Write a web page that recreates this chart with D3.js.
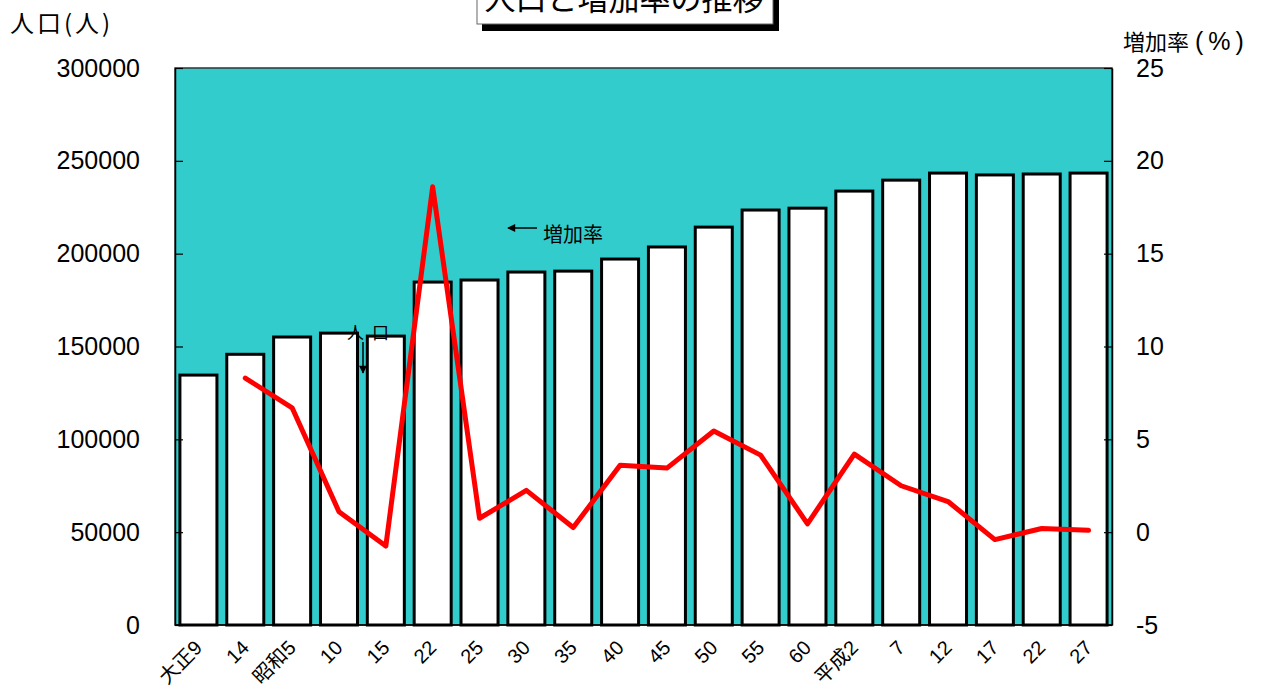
<!DOCTYPE html>
<html>
<head>
<meta charset="utf-8">
<script src="https://cdn.jsdelivr.net/npm/d3@7/dist/d3.min.js"></script>
<style>
  html, body { margin: 0; padding: 0; background: #fff; }
  svg { display: block; }
</style>
</head>
<body>
<svg id="chart" width="1266" height="691"></svg>
<script>
// 年次（国勢調査）
const categories = ["大正9", "14", "昭和5", "10", "15", "22", "25", "30", "35", "40",
                    "45", "50", "55", "60", "平成2", "7", "12", "17", "22", "27"];
// 人口（人）
const population = [134600, 145800, 155100, 157200, 155600, 184700, 185800, 190100, 190600, 197100,
                    203600, 214300, 223500, 224500, 233700, 239600, 243400, 242400, 242900, 243400];
// 増加率（%）: 最初の年次は値なし
const growthRate = [null, 8.3, 6.7, 1.1, -0.75, 18.6, 0.75, 2.25, 0.25, 3.6,
                    3.45, 5.45, 4.15, 0.45, 4.2, 2.5, 1.65, -0.4, 0.2, 0.1];
const leftTicks = [0, 50000, 100000, 150000, 200000, 250000, 300000];
const rightTicks = [-5, 0, 5, 10, 15, 20, 25];

const svg = d3.select("#chart");
const plot = { left: 175, right: 1112, top: 68, bottom: 625 };
const latin = "'Liberation Sans', Arial, sans-serif";
const mixed = "'Liberation Sans', 'Noto Sans CJK JP', sans-serif";
const cjk = "'Noto Sans CJK JP', 'Noto Sans', sans-serif";

// 同じ表記の年次（22）があるので添字で帯を引く
const idx = categories.map((c, i) => i);
const x = d3.scaleBand().domain(idx)
  .range([plot.left, plot.right]).paddingInner(0.21).paddingOuter(0.105);
const cx = i => x(i) + x.bandwidth() / 2;
const yPop = d3.scaleLinear().domain([0, 300000]).range([plot.bottom, plot.top]);
const yRate = d3.scaleLinear().domain([-5, 25]).range([plot.bottom, plot.top]);

const defs = svg.append("defs");
defs.append("marker").attr("id", "arrow")
  .attr("viewBox", "0 0 10 10").attr("refX", 9).attr("refY", 5)
  .attr("markerWidth", 10).attr("markerHeight", 8).attr("markerUnits", "userSpaceOnUse")
  .attr("orient", "auto")
  .append("path").attr("d", "M0,0 L10,5 L0,10 Z").attr("fill", "#000");

// プロット領域の背景
svg.append("rect")
  .attr("x", plot.left).attr("y", plot.top)
  .attr("width", plot.right - plot.left).attr("height", plot.bottom - plot.top)
  .attr("fill", "#33CCCC").attr("stroke", "#333").attr("stroke-width", 1.5);

// 人口の棒
svg.append("g").selectAll("rect").data(idx).join("rect")
  .attr("x", i => x(i))
  .attr("y", i => yPop(population[i]))
  .attr("width", x.bandwidth())
  .attr("height", i => yPop(0) - yPop(population[i]))
  .attr("fill", "#fff").attr("stroke", "#000").attr("stroke-width", 3);

// 左軸（人口）
const leftAxis = d3.axisLeft(yPop).tickValues(leftTicks).tickFormat(d3.format("d"))
  .tickSizeInner(-8).tickSizeOuter(0).tickPadding(35);
const gl = svg.append("g").attr("transform", `translate(${plot.left},0)`).call(leftAxis);
gl.select(".domain").attr("stroke", "#000").attr("stroke-width", 1.5);
gl.selectAll(".tick line").attr("stroke", "#000").attr("stroke-width", 1.2);
gl.selectAll(".tick text").attr("font-family", latin).attr("font-size", 25).attr("fill", "#000");

// 右軸（増加率）
const rightAxis = d3.axisRight(yRate).tickValues(rightTicks).tickFormat(d => String(d))
  .tickSizeInner(-8).tickSizeOuter(0).tickPadding(24);
const gr = svg.append("g").attr("transform", `translate(${plot.right},0)`).call(rightAxis);
gr.select(".domain").attr("stroke", "#000").attr("stroke-width", 1.5);
gr.selectAll(".tick line").attr("stroke", "#000").attr("stroke-width", 1.2);
gr.selectAll(".tick text").attr("font-family", latin).attr("font-size", 25).attr("fill", "#000");

// 下辺
svg.append("line").attr("x1", plot.left).attr("x2", plot.right)
  .attr("y1", plot.bottom).attr("y2", plot.bottom).attr("stroke", "#000").attr("stroke-width", 1.5);

// 増加率の折れ線
const rateLine = d3.line()
  .defined(i => growthRate[i] !== null)
  .x(i => cx(i))
  .y(i => yRate(growthRate[i]));
svg.append("path")
  .datum(idx)
  .attr("d", rateLine)
  .attr("fill", "none").attr("stroke", "#FF0000").attr("stroke-width", 5)
  .attr("stroke-linejoin", "round").attr("stroke-linecap", "round");

// X軸ラベル（45度回転）
svg.append("g").selectAll("text").data(idx).join("text")
  .attr("transform", i => `translate(${cx(i) + 5},649) rotate(-45)`)
  .attr("text-anchor", "end")
  .attr("font-family", mixed).attr("font-size", 20).attr("fill", "#000")
  .text(i => categories[i]);

// 系列の注記
svg.append("line").attr("x1", 537).attr("y1", 228).attr("x2", 508).attr("y2", 228)
  .attr("stroke", "#000").attr("stroke-width", 1.5).attr("marker-end", "url(#arrow)");
svg.append("text").attr("x", 543).attr("y", 242)
  .attr("font-family", cjk).attr("font-size", 20).attr("fill", "#000").text("増加率");

svg.append("text").attr("x", 347).attr("y", 339)
  .attr("font-family", cjk).attr("font-size", 17).attr("letter-spacing", 8).attr("fill", "#000").text("人口");
svg.append("line").attr("x1", 363).attr("y1", 342).attr("x2", 363).attr("y2", 373)
  .attr("stroke", "#000").attr("stroke-width", 1.5).attr("marker-end", "url(#arrow)");

// 軸タイトル
svg.append("text").attr("x", 10).attr("y", 32)
  .attr("font-family", cjk).attr("font-size", 24).attr("letter-spacing", 3).attr("fill", "#000").text("人口(人)");
const rt = svg.append("text").attr("x", 1123).attr("y", 50)
  .attr("font-family", cjk).attr("font-size", 22).attr("fill", "#000");
rt.append("tspan").text("増加率");
rt.append("tspan").attr("x", 1195).attr("font-family", latin).attr("font-size", 25)
  .attr("letter-spacing", 5).text("(%)");

// タイトル（影付きの枠）
svg.append("rect").attr("x", 482).attr("y", -10).attr("width", 297).attr("height", 41).attr("fill", "#000");
svg.append("rect").attr("x", 477).attr("y", -10).attr("width", 296).attr("height", 34)
  .attr("fill", "#fff").attr("stroke", "#666").attr("stroke-width", 1);
svg.append("text").attr("x", 624).attr("y", 10).attr("text-anchor", "middle")
  .attr("font-family", cjk).attr("font-size", 31).attr("fill", "#000").text("人口と増加率の推移");
</script>
</body>
</html>
